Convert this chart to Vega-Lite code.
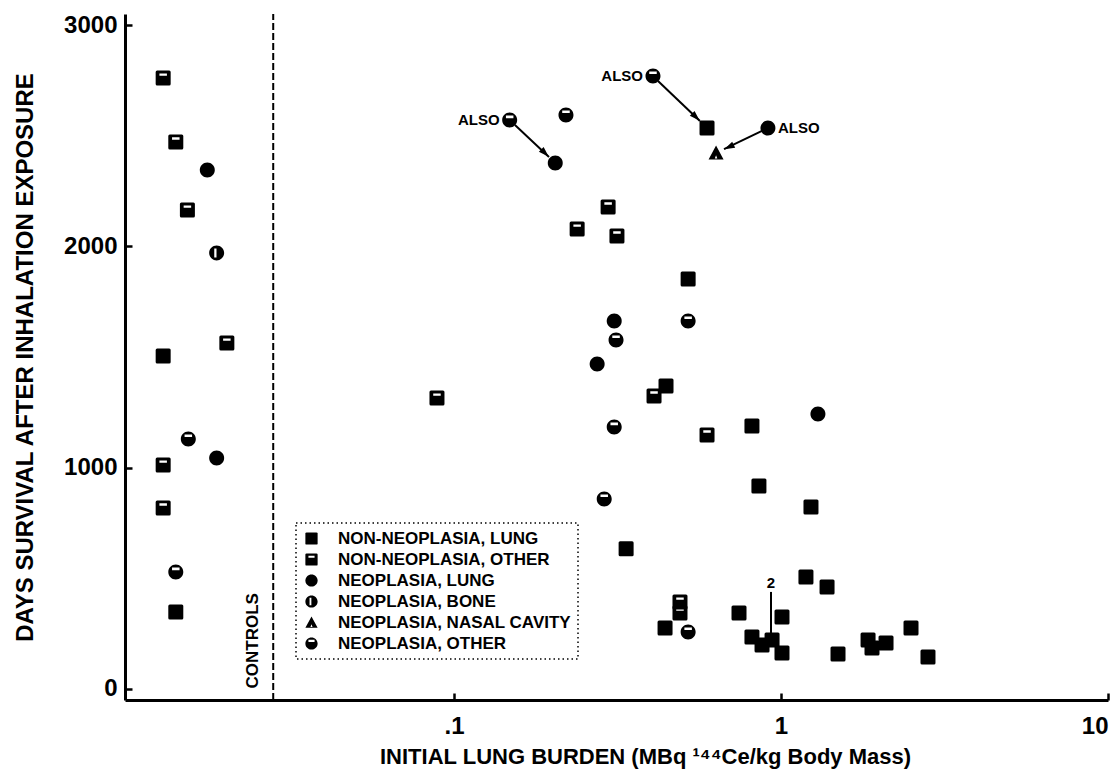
{
  "$schema": "https://vega.github.io/schema/vega-lite/v6.json",
  "width": 983,
  "height": 686,
  "autosize": {"type": "none"},
  "padding": {"left": 125, "top": 14, "right": 2, "bottom": 78},
  "background": "white",
  "config": {
    "view": {"stroke": null},
    "font": "Liberation Sans",
    "axis": {
      "grid": false,
      "labelFont": "Liberation Sans",
      "labelFontWeight": "bold",
      "labelFontSize": 24,
      "labelColor": "black",
      "titleFont": "Liberation Sans",
      "titleFontWeight": "bold",
      "titleColor": "black",
      "domainColor": "black",
      "domainWidth": 3,
      "tickColor": "black",
      "tickWidth": 2.5,
      "tickSize": -7
    },
    "legend": {
      "strokeColor": "black",
      "strokeDash": [1.5, 3],
      "strokeWidth": 1.5
    }
  },
  "datasets": {
    "pts": [
      {"burden": 0.0129, "days": 2762, "type": "NON-NEOPLASIA, OTHER"},
      {"burden": 0.0141, "days": 2473, "type": "NON-NEOPLASIA, OTHER"},
      {"burden": 0.0176, "days": 2346, "type": "NEOPLASIA, LUNG"},
      {"burden": 0.0153, "days": 2165, "type": "NON-NEOPLASIA, OTHER"},
      {"burden": 0.0188, "days": 1971, "type": "NEOPLASIA, BONE"},
      {"burden": 0.0202, "days": 1563, "type": "NON-NEOPLASIA, OTHER"},
      {"burden": 0.0129, "days": 1505, "type": "NON-NEOPLASIA, LUNG"},
      {"burden": 0.0154, "days": 1129, "type": "NEOPLASIA, OTHER"},
      {"burden": 0.0188, "days": 1043, "type": "NEOPLASIA, LUNG"},
      {"burden": 0.0129, "days": 1011, "type": "NON-NEOPLASIA, OTHER"},
      {"burden": 0.0129, "days": 817, "type": "NON-NEOPLASIA, OTHER"},
      {"burden": 0.0141, "days": 527, "type": "NEOPLASIA, OTHER"},
      {"burden": 0.0141, "days": 346, "type": "NON-NEOPLASIA, LUNG"},
      {"burden": 0.0887, "days": 1314, "type": "NON-NEOPLASIA, OTHER"},
      {"burden": 0.148, "days": 2572, "type": "NEOPLASIA, OTHER"},
      {"burden": 0.204, "days": 2378, "type": "NEOPLASIA, LUNG"},
      {"burden": 0.220, "days": 2595, "type": "NEOPLASIA, OTHER"},
      {"burden": 0.406, "days": 2772, "type": "NEOPLASIA, OTHER"},
      {"burden": 0.594, "days": 2536, "type": "NON-NEOPLASIA, LUNG"},
      {"burden": 0.633, "days": 2423, "type": "NEOPLASIA, NASAL CAVITY"},
      {"burden": 0.912, "days": 2536, "type": "NEOPLASIA, LUNG"},
      {"burden": 0.296, "days": 2179, "type": "NON-NEOPLASIA, OTHER"},
      {"burden": 0.238, "days": 2079, "type": "NON-NEOPLASIA, OTHER"},
      {"burden": 0.315, "days": 2048, "type": "NON-NEOPLASIA, OTHER"},
      {"burden": 0.520, "days": 1853, "type": "NON-NEOPLASIA, LUNG"},
      {"burden": 0.309, "days": 1663, "type": "NEOPLASIA, LUNG"},
      {"burden": 0.520, "days": 1663, "type": "NEOPLASIA, OTHER"},
      {"burden": 0.313, "days": 1577, "type": "NEOPLASIA, OTHER"},
      {"burden": 0.274, "days": 1468, "type": "NEOPLASIA, LUNG"},
      {"burden": 0.445, "days": 1369, "type": "NON-NEOPLASIA, LUNG"},
      {"burden": 0.409, "days": 1324, "type": "NON-NEOPLASIA, OTHER"},
      {"burden": 1.297, "days": 1242, "type": "NEOPLASIA, LUNG"},
      {"burden": 0.815, "days": 1188, "type": "NON-NEOPLASIA, LUNG"},
      {"burden": 0.309, "days": 1183, "type": "NEOPLASIA, OTHER"},
      {"burden": 0.594, "days": 1147, "type": "NON-NEOPLASIA, OTHER"},
      {"burden": 0.856, "days": 916, "type": "NON-NEOPLASIA, LUNG"},
      {"burden": 1.235, "days": 821, "type": "NON-NEOPLASIA, LUNG"},
      {"burden": 0.288, "days": 858, "type": "NEOPLASIA, OTHER"},
      {"burden": 0.336, "days": 632, "type": "NON-NEOPLASIA, LUNG"},
      {"burden": 1.192, "days": 505, "type": "NON-NEOPLASIA, LUNG"},
      {"burden": 1.383, "days": 459, "type": "NON-NEOPLASIA, LUNG"},
      {"burden": 0.491, "days": 391, "type": "NON-NEOPLASIA, OTHER"},
      {"burden": 0.491, "days": 342, "type": "NON-NEOPLASIA, OTHER"},
      {"burden": 0.442, "days": 274, "type": "NON-NEOPLASIA, LUNG"},
      {"burden": 0.520, "days": 256, "type": "NEOPLASIA, OTHER"},
      {"burden": 0.744, "days": 342, "type": "NON-NEOPLASIA, LUNG"},
      {"burden": 1.007, "days": 324, "type": "NON-NEOPLASIA, LUNG"},
      {"burden": 0.815, "days": 233, "type": "NON-NEOPLASIA, LUNG"},
      {"burden": 0.875, "days": 197, "type": "NON-NEOPLASIA, LUNG"},
      {"burden": 0.939, "days": 219, "type": "NON-NEOPLASIA, LUNG"},
      {"burden": 1.007, "days": 161, "type": "NON-NEOPLASIA, LUNG"},
      {"burden": 1.494, "days": 156, "type": "NON-NEOPLASIA, LUNG"},
      {"burden": 1.846, "days": 219, "type": "NON-NEOPLASIA, LUNG"},
      {"burden": 2.095, "days": 206, "type": "NON-NEOPLASIA, LUNG"},
      {"burden": 1.898, "days": 183, "type": "NON-NEOPLASIA, LUNG"},
      {"burden": 2.498, "days": 274, "type": "NON-NEOPLASIA, LUNG"},
      {"burden": 2.815, "days": 143, "type": "NON-NEOPLASIA, LUNG"}
    ],
    "divider": [{"burden": 0.028, "days": -52, "days2": 3052}],
    "controls": [{"burden": 0.0243, "days": 0, "label": "CONTROLS"}],
    "arrows": [
      {"burden": 0.1536, "days": 2550, "burden2": 0.1952, "days2": 2405},
      {"burden": 0.4206, "days": 2749, "burden2": 0.5651, "days2": 2568},
      {"burden": 0.8748, "days": 2523, "burden2": 0.6695, "days2": 2441}
    ],
    "heads": [
      {"burden": 0.1898, "days": 2423, "dir": "down-right"},
      {"burden": 0.5495, "days": 2586, "dir": "down-right"},
      {"burden": 0.6934, "days": 2450, "dir": "down-left"}
    ],
    "also": [
      {"burden": 0.148, "days": 2572, "side": "left", "label": "ALSO"},
      {"burden": 0.406, "days": 2772, "side": "left", "label": "ALSO"},
      {"burden": 0.912, "days": 2536, "side": "right", "label": "ALSO"}
    ],
    "countline": [{"burden": 0.932, "days": 437, "days2": 238}],
    "countlabel": [{"burden": 0.932, "days": 477, "label": "2"}]
  },
  "encoding": {
    "x": {
      "field": "burden", "type": "quantitative",
      "scale": {"type": "log", "domain": [0.00986, 10], "nice": false},
      "axis": {
        "values": [0.1, 1, 10],
        "labelExpr": "datum.value < 0.5 ? '.1' : (datum.value < 5 ? '1' : '10')",
        "labelFlush": true,
        "labelPadding": 21,
        "title": "INITIAL LUNG BURDEN (MBq ¹⁴⁴Ce/kg Body Mass)",
        "titleFontSize": 22,
        "titleX": 520,
        "titlePadding": 8
      }
    },
    "y": {
      "field": "days", "type": "quantitative",
      "scale": {"domain": [-52, 3052], "nice": false, "zero": false},
      "axis": {
        "values": [0, 1000, 2000, 3000],
        "format": "d",
        "labelPadding": 15,
        "title": "DAYS SURVIVAL AFTER INHALATION EXPOSURE",
        "titleFontSize": 24,
        "titlePadding": 26
      }
    }
  },
  "layer": [
    {
      "data": {"name": "divider"},
      "mark": {"type": "rule", "color": "black", "strokeWidth": 2, "strokeDash": [7, 3]},
      "encoding": {
        "y2": {"field": "days2"}
      }
    },
    {
      "data": {"name": "pts"},
      "mark": {"type": "point", "filled": true, "fill": "black", "strokeWidth": 0, "opacity": 1, "size": 225},
      "encoding": {
        "shape": {
          "field": "type", "type": "nominal",
          "scale": {
            "domain": ["NON-NEOPLASIA, LUNG", "NON-NEOPLASIA, OTHER", "NEOPLASIA, LUNG", "NEOPLASIA, BONE", "NEOPLASIA, NASAL CAVITY", "NEOPLASIA, OTHER"],
            "range": [
              "M-0.8,-1H0.8Q1,-1 1,-0.8V0.8Q1,1 0.8,1H-0.8Q-1,1 -1,0.8V-0.8Q-1,-1 -0.8,-1Z",
              "M-0.8,-1H0.8Q1,-1 1,-0.8V0.8Q1,1 0.8,1H-0.8Q-1,1 -1,0.8V-0.8Q-1,-1 -0.8,-1ZM-0.5,-0.62V-0.3H0.5V-0.62Z",
              "M1,0A1,1 0 1,1 -1,0A1,1 0 1,1 1,0Z",
              "M1,0A1,1 0 1,1 -1,0A1,1 0 1,1 1,0ZM-0.32,-0.6V0.6H-0.02V-0.6Z",
              "M0,-1L1,0.85H-1ZM0,0.3L-0.17,0.72H0.17Z",
              "M1,0A1,1 0 1,1 -1,0A1,1 0 1,1 1,0ZM-0.5,-0.6V-0.25H0.5V-0.6Z"
            ]
          },
          "legend": {
            "orient": "none",
            "legendX": 171,
            "legendY": 509,
            "title": null,
            "padding": 7,
            "fillColor": "white",
            "labelFont": "Liberation Sans",
            "labelFontWeight": "bold",
            "labelFontSize": 17,
            "labelColor": "black",
            "labelLimit": 0,
            "labelOffset": 18,
            "symbolSize": 150,
            "symbolFillColor": "black",
            "symbolStrokeWidth": 0,
            "symbolOpacity": 1,
            "rowPadding": 3
          }
        }
      }
    },
    {
      "data": {"name": "arrows"},
      "mark": {"type": "rule", "color": "black", "strokeWidth": 2},
      "encoding": {
        "x2": {"field": "burden2"},
        "y2": {"field": "days2"}
      }
    },
    {
      "data": {"name": "heads"},
      "mark": {"type": "point", "filled": true, "fill": "black", "strokeWidth": 0, "opacity": 1, "size": 110, "shape": "M0,-1L0.65,1H-0.65Z"},
      "encoding": {
        "angle": {"field": "dir", "type": "nominal", "scale": {"domain": ["down-right", "down-left"], "range": [134, 244]}, "legend": null}
      }
    },
    {
      "data": {"name": "also"},
      "transform": [{"filter": "datum.side === 'left'"}],
      "mark": {"type": "text", "align": "right", "baseline": "middle", "dx": -10, "font": "Liberation Sans", "fontWeight": "bold", "fontSize": 15, "color": "black"},
      "encoding": {
        "text": {"field": "label"}
      }
    },
    {
      "data": {"name": "also"},
      "transform": [{"filter": "datum.side === 'right'"}],
      "mark": {"type": "text", "align": "left", "baseline": "middle", "dx": 10, "font": "Liberation Sans", "fontWeight": "bold", "fontSize": 15, "color": "black"},
      "encoding": {
        "text": {"field": "label"}
      }
    },
    {
      "data": {"name": "controls"},
      "mark": {"type": "text", "align": "left", "baseline": "middle", "angle": 270, "font": "Liberation Sans", "fontWeight": "bold", "fontSize": 17, "color": "black"},
      "encoding": {
        "text": {"field": "label"}
      }
    },
    {
      "data": {"name": "countline"},
      "mark": {"type": "rule", "color": "black", "strokeWidth": 2},
      "encoding": {
        "y2": {"field": "days2"}
      }
    },
    {
      "data": {"name": "countlabel"},
      "mark": {"type": "text", "align": "center", "baseline": "middle", "font": "Liberation Sans", "fontWeight": "bold", "fontSize": 15, "color": "black"},
      "encoding": {
        "text": {"field": "label"}
      }
    }
  ]
}
